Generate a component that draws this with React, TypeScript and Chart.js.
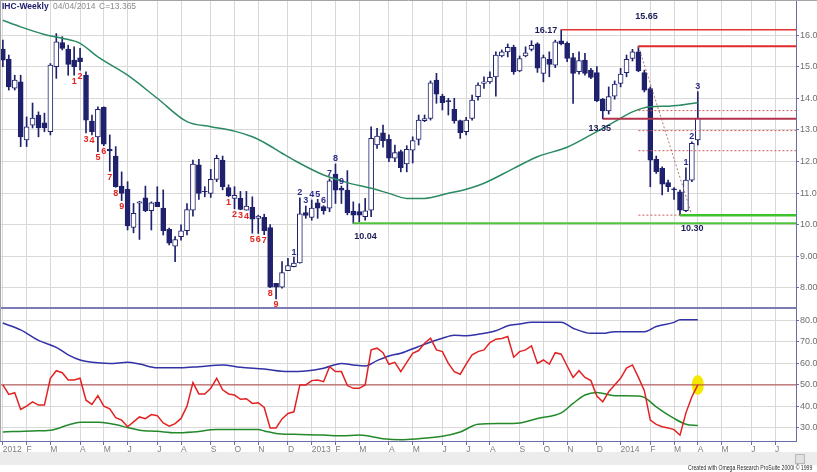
import React, { useEffect, useRef } from 'react';
import { Chart, registerables } from 'chart.js';

Chart.register(...registerables);

// ---------- DATA ----------
// Weekly bars, index 0 = week ending 06 Jan 2012, index 117 = week ending 04 Apr 2014
const opens = [
  15.56, 15.24, 14.32, 14.52, 12.68, 13.15, 13.47, 13.22, 12.94, 15.0,
  15.76, 15.56, 15.21, 15.28, 14.73, 13.28, 12.78, 13.71, 12.38, 12.17,
  11.22, 11.12, 9.91, 10.68, 10.85, 10.44, 10.71, 10.52, 9.85, 9.32,
  9.62, 9.81, 10.46, 11.89, 11.05, 10.99, 11.43, 12.04, 11.17, 10.83,
  10.83, 10.46, 10.55, 10.2, 10.23, 9.91, 8.14, 8.02, 8.54, 8.67,
  8.79, 10.38, 10.23, 10.69, 10.57, 10.52, 11.6, 11.15, 11.09, 10.43,
  10.41, 10.25, 10.46, 12.52, 12.91, 12.7, 12.1, 12.31, 11.92, 12.36,
  12.7, 13.29, 13.36, 14.58, 14.07, 13.93, 13.65, 13.29, 12.94, 13.36,
  14.05, 14.47, 14.52, 14.68, 15.34, 15.47, 15.61, 14.87, 15.34, 15.55,
  15.72, 14.79, 15.23, 15.05, 15.82, 15.74, 15.29, 14.84, 15.21, 14.89,
  14.81, 13.97, 13.6, 14.07, 14.47, 14.81, 15.26, 15.47, 14.81, 14.31,
  12.07, 11.78, 11.33, 11.13, 11.04, 10.44, 11.41, 12.68,
];
const highs = [
  15.84, 15.37, 14.73, 14.73, 13.41, 13.85, 13.57, 13.53, 15.1, 16.05,
  15.95, 15.68, 15.63, 15.58, 14.84, 13.47, 13.73, 13.73, 12.84, 12.47,
  11.67, 11.36, 10.67, 10.74, 11.22, 10.72, 11.2, 11.1, 9.89, 9.62,
  9.99, 10.67, 12.04, 12.07, 11.2, 11.75, 12.2, 12.17, 11.26, 11.2,
  11.05, 11.05, 10.88, 10.3, 10.33, 10.0, 8.14, 8.83, 8.93, 8.97,
  10.85, 10.59, 10.78, 10.8, 10.6, 11.45, 11.92, 11.22, 11.71, 10.72,
  10.66, 10.83, 13.1, 13.05, 13.15, 12.84, 12.52, 12.36, 12.5, 12.78,
  13.47, 13.47, 14.55, 14.79, 14.13, 14.0, 14.0, 13.31, 13.4, 14.1,
  14.49, 14.68, 14.84, 15.47, 15.53, 15.72, 15.68, 15.34, 15.63, 15.82,
  15.76, 15.37, 15.47, 15.84, 16.17, 15.79, 15.42, 15.47, 15.42, 14.95,
  15.0, 14.0, 14.36, 14.55, 14.95, 15.37, 15.55, 15.65, 14.89, 14.36,
  12.17, 11.83, 11.41, 11.17, 11.09, 11.8, 12.62, 14.21,
];
const lows = [
  15.0, 14.26, 14.26, 12.47, 12.47, 13.06, 12.78, 12.94, 12.84, 14.63,
  15.53, 14.73, 14.73, 14.89, 12.9, 12.84, 12.31, 12.5, 11.69, 11.18,
  10.76, 9.83, 9.74, 9.53, 10.41, 9.83, 10.57, 9.67, 9.36, 8.83,
  9.51, 9.67, 10.27, 10.8, 10.88, 10.86, 11.36, 11.1, 10.88, 10.5,
  10.47, 10.46, 9.73, 9.72, 9.68, 8.0, 7.65, 7.99, 8.54, 8.66,
  8.78, 10.2, 10.14, 10.2, 10.33, 10.41, 10.67, 10.67, 10.31, 10.04,
  10.08, 10.14, 10.25, 12.41, 12.45, 11.99, 11.99, 11.67, 11.67, 11.95,
  12.52, 13.26, 13.31, 13.84, 13.63, 13.47, 13.21, 12.73, 12.84, 13.31,
  13.94, 14.31, 14.47, 14.07, 15.31, 15.31, 14.76, 14.84, 15.31, 15.5,
  14.82, 14.52, 14.68, 14.97, 15.69, 15.16, 13.84, 14.76, 14.73, 14.62,
  13.89, 13.35, 13.5, 13.97, 14.36, 14.68, 15.18, 14.84, 14.2, 11.2,
  11.62, 10.94, 11.04, 10.8, 10.3, 10.41, 11.36, 12.52,
];
const closes = [
  15.21, 14.36, 14.58, 12.78, 13.1, 13.37, 13.06, 13.06, 15.05, 15.79,
  15.58, 15.07, 15.0, 15.16, 13.31, 12.94, 13.65, 12.55, 12.33, 11.2,
  10.99, 9.96, 10.36, 10.72, 10.44, 10.69, 10.57, 9.81, 9.41, 9.53,
  9.8, 10.48, 11.92, 10.99, 11.04, 11.43, 12.1, 11.2, 10.91, 10.93,
  10.48, 10.59, 10.17, 10.27, 9.81, 8.02, 8.02, 8.48, 8.7, 8.78,
  10.34, 10.29, 10.52, 10.52, 10.44, 11.39, 11.09, 11.09, 10.38, 10.3,
  10.3, 10.44, 12.73, 12.8, 12.66, 12.1, 12.28, 11.8, 12.38, 12.66,
  13.31, 13.36, 14.49, 14.13, 13.86, 13.89, 13.29, 12.91, 13.31, 13.94,
  14.42, 14.52, 14.66, 15.37, 15.47, 15.61, 14.84, 15.26, 15.44, 15.68,
  14.95, 15.29, 15.07, 15.79, 15.72, 15.26, 14.79, 15.19, 14.79, 14.66,
  13.92, 13.6, 14.05, 14.45, 14.77, 15.23, 15.47, 14.87, 14.26, 12.04,
  11.68, 11.28, 11.2, 11.1, 10.46, 11.41, 12.57, 13.365,
];

// moving average (top panel), read at selected weeks
const maWeeks = [0, 3, 7, 10, 13, 16, 21, 26, 31, 35, 39, 42, 44, 47, 49, 54, 58, 62, 65, 68, 71, 75, 78, 81, 86, 90, 95, 99, 103, 106, 109, 112, 114, 117];
const maValues = [16.47, 16.26, 16.02, 15.9, 15.74, 15.31, 14.73, 14.0, 13.26, 13.1, 12.96, 12.78, 12.6, 12.26, 12.04, 11.57, 11.33, 11.15, 10.99, 10.83, 10.83, 10.99, 11.12, 11.31, 11.78, 12.15, 12.45, 12.84, 13.26, 13.57, 13.73, 13.75, 13.78, 13.86];

// lower panel: oscillator (red), one value per week
const oscValues = [
  50, 45.6, 46.4, 38.6, 40.1, 42.1, 40.6, 40.6, 53.1, 56.6,
  55.7, 52.3, 52.3, 53.1, 42.9, 40.9, 45, 40.1, 38.9, 34.8,
  33.6, 30.5, 32.8, 35.1, 34.3, 36.2, 35.7, 32.3, 30.8, 32.0,
  34.4, 40.1, 51.1, 45.8, 45.8, 48.4, 53.1, 47.7, 45.8, 45.3,
  43.3, 43.6, 41.4, 41.7, 39.5, 30.0, 30.0, 34.2, 36.7, 37.5,
  50, 50, 52, 52.3, 51.5, 58.5, 56.2, 56.2, 49.7, 48.4,
  48.4, 50, 66.3, 67.1, 65.0, 59.6, 60.5, 56.2, 60.5, 64.7,
  66, 69.4, 71.7, 66.3, 65.5, 60, 56.2, 55, 59.7, 64,
  65.5, 66.3, 69.7, 71.3, 71.6, 72.5, 62.9, 65.5, 66.3, 68.2,
  60, 61.6, 59.7, 65, 64.3, 58.8, 53.5, 56.6, 53.5, 52,
  44.8, 42.1, 46.8, 50, 53.1, 57.8, 59.3, 53.5, 47.3, 33.6,
  31.6, 30.5, 30, 29.2, 26.6, 37, 44.5, 50,
];
// upper band (blue) and lower band (green), read at selected weeks
const upperWeeks = [0, 3, 6, 9, 11, 13, 15, 18, 21, 23, 26, 30, 33, 37, 40, 44, 48, 51, 54, 57, 59, 61, 63, 65, 67, 70, 74, 76, 78, 80, 83, 85, 87, 89, 92, 94, 96, 99, 101, 103, 106, 108, 110, 113, 114, 117];
const upperValues = [78.8, 75.6, 70.7, 67.5, 64.0, 61.6, 60.5, 60, 60.5, 59.7, 58, 58, 58.5, 59.3, 58.2, 57.4, 56.2, 56.5, 57.8, 60, 59.3, 58.8, 61.3, 63.5, 64.7, 67.9, 71.7, 73.1, 72.9, 73.6, 75.2, 77.5, 78.3, 79.2, 79.2, 79.2, 76.4, 74, 74, 74.8, 74.8, 74.8, 77.2, 79.1, 80.3, 80.3];
const lowerWeeks = [0, 5, 8, 11, 13, 16, 18, 21, 23, 26, 29, 32, 36, 43, 44, 46, 49, 54, 57, 60, 64, 67, 70, 74, 77, 80, 84, 87, 90, 94, 96, 98, 100, 103, 107, 108, 110, 113, 115, 117];
const lowerValues = [28.1, 28.6, 28.9, 31.3, 32.6, 32.6, 32, 30.2, 28.9, 28.4, 27.7, 28.1, 29.2, 29.2, 28.6, 27.4, 27, 26.7, 26.3, 26.7, 25, 24.5, 25, 26.1, 28.1, 31.7, 32, 32.3, 34.4, 37, 41.4, 45.3, 46.5, 45, 44.8, 44.2, 39.8, 34.4, 31.7, 31.1];
const oscMidLevel = 50;

// horizontal price levels
const levelValues = [16.17, 15.65, 13.35, 10.04, 10.3];
const levelStartWeeks = [94, 107, 101, 59, 114];
// retracement levels (15.65 -> 10.30)
const fibValues = [13.61, 12.975, 12.34];
const fibStartWeek = 107;
const fibLowEndWeek = 114;
const trendWeeks = [107, 116];
const trendValues = [15.65, 10.3];

// sequence counts
const redCountWeeks = [12, 13, 14, 15, 16, 17, 18, 19, 20, 38, 39, 40, 41, 42, 43, 44, 45, 46];
const redCountLabels = ['1', '2', '3', '4', '5', '6', '7', '8', '9', '1', '2', '3', '4', '5', '6', '7', '8', '9'];
const blueCountWeeks = [49, 50, 51, 52, 53, 54, 55, 56, 57, 115, 116, 117];
const blueCountLabels = ['1', '2', '3', '4', '5', '6', '7', '8', '9', '1', '2', '3'];

// axes
const monthTickWeeks = [0, 4, 8, 13, 17, 21, 26, 30, 35, 39, 43, 48, 52, 56, 60, 65, 69, 74, 78, 82, 87, 91, 95, 100, 104, 109, 113, 117, 121, 126, 130];
const monthTickLabels = ['2012', 'F', 'M', 'A', 'M', 'J', 'J', 'A', 'S', 'O', 'N', 'D', '2013', 'F', 'M', 'A', 'M', 'J', 'J', 'A', 'S', 'O', 'N', 'D', '2014', 'F', 'M', 'A', 'M', 'J', 'J'];
const priceTicks = [8, 9, 10, 11, 12, 13, 14, 15, 16];
const oscTicks = [30, 40, 50, 60, 70, 80];

const X_MIN = -0.48;
const X_MAX = 133.53;
const PRICE_MIN = 7.36;
const PRICE_MAX = 17.08;
const OSC_MIN = 23.9;
const OSC_MAX = 85.8;

// ---------- STYLE ----------
const FONT = 'Arial, "Liberation Sans", Helvetica, sans-serif';
const NAVY = '#1f216c';
const AXIS = '#6c6cab';
const GRID = '#d9d9d9';

const weeks = opens.map((_, i) => i);

const overlay = {
  id: 'overlay',
  beforeDatasetsDraw(chart: any) {
    const { ctx, scales } = chart;
    const x = scales.x, y2 = scales.y2;
    const last = oscValues.length - 1;
    ctx.save();
    ctx.fillStyle = '#f5e800';
    ctx.beginPath();
    ctx.ellipse(x.getPixelForValue(last), y2.getPixelForValue(oscValues[last]), 6, 10, 0, 0, Math.PI * 2);
    ctx.fill();
    ctx.restore();
  },
  afterDatasetsDraw(chart: any) {
    const { ctx, scales } = chart;
    const x = scales.x, y = scales.y;
    ctx.save();
    ctx.font = 'bold 9px ' + FONT;
    // red counts below lows
    ctx.fillStyle = '#e3241e';
    ctx.textAlign = 'center';
    ctx.textBaseline = 'top';
    redCountWeeks.forEach((w, k) => {
      ctx.fillText(redCountLabels[k], x.getPixelForValue(w), y.getPixelForValue(lows[w]) + 1.5);
    });
    // blue counts above highs
    ctx.fillStyle = '#2b2b8e';
    ctx.textBaseline = 'alphabetic';
    blueCountWeeks.forEach((w, k) => {
      ctx.fillText(blueCountLabels[k], x.getPixelForValue(w), y.getPixelForValue(highs[w]) - 2.5);
    });
    // level labels
    ctx.fillStyle = '#1c1c58';
    ctx.textBaseline = 'middle';
    const lbl = (k: number, align: string, dx: number, dy: number) => {
      ctx.textAlign = align;
      ctx.fillText(levelValues[k].toFixed(2), x.getPixelForValue(levelStartWeeks[k]) + dx, y.getPixelForValue(levelValues[k]) + dy);
    };
    lbl(0, 'right', -4, 1);
    lbl(1, 'center', 8, -30);
    lbl(2, 'center', -3, 9.5);
    lbl(3, 'left', 1, 13.5);
    lbl(4, 'left', 1, 13);
    ctx.restore();
  },
  afterDraw(chart: any) {
    const { ctx, scales } = chart;
    const y = scales.y;
    ctx.save();
    // separator between panels
    ctx.strokeStyle = '#7b7bb3';
    ctx.lineWidth = 2;
    ctx.beginPath();
    ctx.moveTo(0, Math.round(y.bottom));
    ctx.lineTo(797, Math.round(y.bottom));
    ctx.stroke();
    // frame top & left
    ctx.strokeStyle = '#a4a4a4';
    ctx.lineWidth = 1;
    ctx.beginPath();
    ctx.moveTo(0, 0.5);
    ctx.lineTo(817, 0.5);
    ctx.moveTo(0.5, 0);
    ctx.lineTo(0.5, scales.x.top);
    ctx.stroke();
    ctx.restore();
  },
};

const fitY = (s: any) => {
  s.width = 21;
  s.paddingTop = 0;
  s.paddingBottom = 0;
};

export default function App() {
  const ref = useRef<HTMLCanvasElement | null>(null);

  useEffect(() => {
    if (!ref.current) return;
    const hLine = (startW: number, endW: number, v: number, color: string, width: number, dash: number[] = []) => ({
      type: 'line',
      yAxisID: 'y',
      data: [{ x: startW, y: v }, { x: endW, y: v }],
      borderColor: color,
      borderWidth: width,
      borderDash: dash,
      pointRadius: 0,
      clip: 0,
      order: 0,
    });
    const levelStyles = [
      ['#e23232', 1.5],
      ['#e02a2a', 2],
      ['#b2324c', 2],
      ['#52c43c', 2],
      ['#3ec22e', 2.5],
    ];
    const datasets: any[] = [
      {
        type: 'bar',
        yAxisID: 'y',
        data: weeks.map((i) => ({ x: i, y: [lows[i], highs[i]] })),
        backgroundColor: NAVY,
        borderWidth: 0,
        barThickness: 1,
        grouped: false,
        order: 3,
      },
      {
        type: 'bar',
        yAxisID: 'y',
        data: weeks.map((i) => ({ x: i, y: [opens[i], closes[i]] })),
        backgroundColor: weeks.map((i) => (closes[i] >= opens[i] ? '#ffffff' : NAVY)),
        borderColor: NAVY,
        borderWidth: 1,
        borderSkipped: false,
        barThickness: 5,
        grouped: false,
        order: 2,
      },
      {
        type: 'line',
        yAxisID: 'y',
        data: maWeeks.map((w, k) => ({ x: w, y: maValues[k] })),
        borderColor: '#2a8a62',
        borderWidth: 1.5,
        pointRadius: 0,
        cubicInterpolationMode: 'monotone',
        order: 1,
      },
      ...levelValues.map((v, k) => hLine(levelStartWeeks[k], 134, v, levelStyles[k][0] as string, levelStyles[k][1] as number)),
      ...fibValues.map((v) => hLine(fibStartWeek, 134, v, '#d05a5a', 1, [2, 2])),
      hLine(fibStartWeek, fibLowEndWeek, levelValues[4], '#d05a5a', 1, [2, 2]),
      {
        type: 'line',
        yAxisID: 'y',
        data: trendWeeks.map((w, k) => ({ x: w, y: trendValues[k] })),
        borderColor: '#b0786a',
        borderWidth: 1,
        borderDash: [2, 2],
        pointRadius: 0,
        order: 0,
      },
      {
        type: 'line',
        yAxisID: 'y2',
        data: [{ x: X_MIN, y: oscMidLevel }, { x: X_MAX, y: oscMidLevel }],
        borderColor: '#b04545',
        borderWidth: 1,
        pointRadius: 0,
        clip: 0,
        order: 2,
      },
      {
        type: 'line',
        yAxisID: 'y2',
        data: upperWeeks.map((w, k) => ({ x: w, y: upperValues[k] })),
        borderColor: '#3232a6',
        borderWidth: 1.5,
        pointRadius: 0,
        cubicInterpolationMode: 'monotone',
        order: 1,
      },
      {
        type: 'line',
        yAxisID: 'y2',
        data: lowerWeeks.map((w, k) => ({ x: w, y: lowerValues[k] })),
        borderColor: '#23892a',
        borderWidth: 1.5,
        pointRadius: 0,
        cubicInterpolationMode: 'monotone',
        order: 1,
      },
      {
        type: 'line',
        yAxisID: 'y2',
        data: oscValues.map((v, i) => ({ x: i, y: v })),
        borderColor: '#e22222',
        borderWidth: 1.5,
        pointRadius: 0,
        order: 0,
      },
    ];

    const chart = new Chart(ref.current, {
      type: 'bar',
      data: { datasets },
      options: {
        animation: false,
        responsive: false,
        maintainAspectRatio: false,
        events: [],
        layout: { padding: { top: 1, left: 0, right: 0, bottom: 0 } },
        plugins: {
          legend: { display: false },
          tooltip: { enabled: false },
          title: { display: false },
        },
        scales: {
          x: {
            type: 'linear',
            position: 'bottom',
            min: X_MIN,
            max: X_MAX,
            offset: false,
            afterBuildTicks: (s: any) => {
              s.ticks = monthTickWeeks.map((v) => ({ value: v }));
            },
            afterFit: (s: any) => {
              s.height = 31;
              s.paddingLeft = 0;
              s.paddingRight = 0;
            },
            ticks: {
              autoSkip: false,
              maxRotation: 0,
              minRotation: 0,
              align: 'start',
              padding: 0,
              color: '#7d7d7d',
              font: { size: 8.5, family: FONT, lineHeight: 1 },
              callback: (_v: any, i: number) => monthTickLabels[i] ?? '',
            },
            grid: { color: GRID, lineWidth: 1, tickLength: 4, tickColor: AXIS, offset: false },
            border: { display: true, color: AXIS, width: 1 },
          },
          y: {
            type: 'linear',
            position: 'right',
            stack: 'panels',
            stackWeight: 307,
            min: PRICE_MIN,
            max: PRICE_MAX,
            afterBuildTicks: (s: any) => {
              s.ticks = priceTicks.map((v) => ({ value: v }));
            },
            afterFit: fitY,
            ticks: {
              color: '#6e6e6e',
              padding: 1,
              font: { size: 9, family: FONT },
              callback: (v: any) => Number(v).toFixed(2),
            },
            grid: { color: GRID, lineWidth: 1, tickLength: 3, tickColor: AXIS },
            border: { display: true, color: AXIS, width: 1 },
          },
          y2: {
            type: 'linear',
            position: 'right',
            stack: 'panels',
            stackWeight: 133,
            min: OSC_MIN,
            max: OSC_MAX,
            afterBuildTicks: (s: any) => {
              s.ticks = oscTicks.map((v) => ({ value: v }));
            },
            afterFit: fitY,
            ticks: {
              color: '#6e6e6e',
              padding: 1,
              font: { size: 9, family: FONT },
              callback: (v: any) => Number(v).toFixed(2),
            },
            grid: { color: GRID, lineWidth: 1, tickLength: 3, tickColor: AXIS },
            border: { display: true, color: AXIS, width: 1 },
          },
        },
      } as any,
      plugins: [overlay],
    } as any);
    return () => chart.destroy();
  }, []);

  return (
    <div style={{ position: 'fixed', left: 0, top: 0, width: 817, height: 472, background: '#ffffff', overflow: 'hidden' }}>
      <canvas ref={ref} width={817} height={472} style={{ position: 'absolute', left: 0, top: 0, width: 817, height: 472 }} />
      <div style={{ position: 'absolute', left: 2, top: 1, fontFamily: FONT, fontSize: 8.5, lineHeight: '11px', whiteSpace: 'nowrap' }}>
        <span style={{ position: 'absolute', left: 0, fontWeight: 'bold', color: '#20206c' }}>IHC-Weekly</span>
        <span style={{ position: 'absolute', left: 51, color: '#8a8a8a' }}>04/04/2014</span>
        <span style={{ position: 'absolute', left: 97, color: '#8a8a8a' }}>C=13.365</span>
      </div>
      <div style={{ position: 'absolute', left: 0, top: 452, width: 817, height: 13, background: '#ececec' }} />
      <div style={{ position: 'absolute', left: 795, top: 454, width: 8, height: 8, border: '1px solid #b8b8b8', background: '#e0e0e0' }} />
      <div style={{ position: 'absolute', left: 688, top: 464, fontFamily: FONT, fontSize: 6.3, lineHeight: '8px', color: '#2a2a2a', whiteSpace: 'nowrap', transform: 'scaleX(0.82)', transformOrigin: 'left top' }}>
        Created with Omega Research ProSuite 2000i © 1999
      </div>
    </div>
  );
}
